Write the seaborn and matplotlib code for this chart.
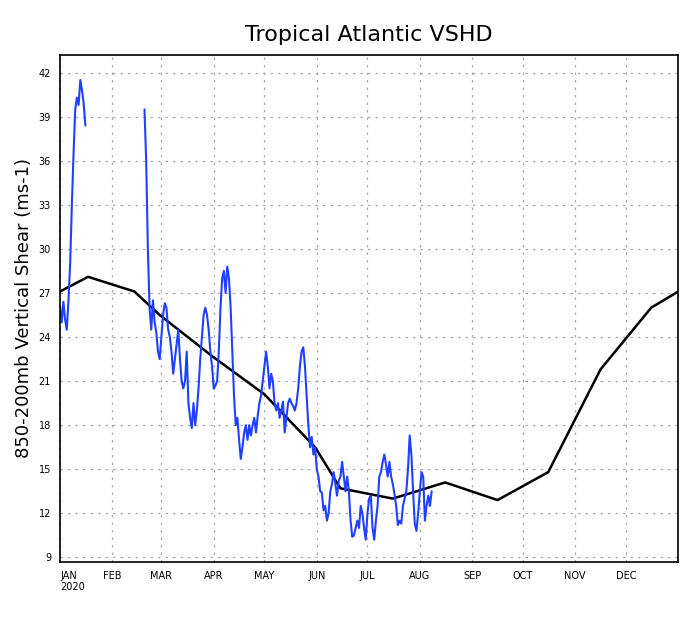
import numpy as np
import pandas as pd
import matplotlib
matplotlib.use("Agg")
import matplotlib.pyplot as plt
import seaborn as sns

# day of year 2020 (0 = Jan 1)
jan_days = list(range(0, 16))
jan_vals = [26.1, 25.0, 26.4, 25.2, 24.5, 26.5, 29.0, 33.0, 36.5, 39.5, 40.3, 39.8, 41.5, 40.8, 39.9, 38.4]

obs_days = list(range(50, 221))
obs_vals = [
    39.5, 36, 30, 26, 24.5, 26.5, 25, 24.3, 23, 22.5,
    24, 25.5, 26.3, 26, 24.5, 24, 23, 21.5, 22.5, 23.5,
    24.5, 22.5, 21, 20.5, 21, 23, 19.5, 18.5, 17.8, 19.5,
    18, 19, 20.5, 22.5, 24, 25.5, 26, 25.5, 24.5, 23,
    22, 20.5, 20.7, 21, 23, 26, 28, 28.5, 27, 28.8,
    28, 26, 23, 20, 18, 18.5, 17, 15.7, 16.5, 17.5,
    18, 17, 18, 17.3, 18, 18.5, 17.5, 18.6, 19.5, 20,
    21, 22, 23, 22, 20.5, 21.5, 21, 19.5, 19, 19.5,
    18.5, 19, 19.6, 17.5, 18.5, 19.5, 19.8, 19.5, 19.3, 19,
    19.5, 20.5, 22, 23, 23.3, 22, 20, 18, 16.5, 17.2,
    16, 16.5, 15, 14.5, 13.5, 13.4, 12.2, 12.5, 11.5, 12,
    13.5, 14, 14.8, 14, 13.2, 14.2, 14.5, 15.5, 14.5, 13.5,
    14.5, 13.5, 11.5, 10.4, 10.5, 11, 11.5, 11, 12.5, 12,
    11, 10.2, 12, 13, 13.2, 11, 10.2, 11.5, 12.5, 14.5,
    14.8, 15.5, 16, 15.3, 14.5, 15.5, 14.5, 14, 13.3, 12.5,
    11.2, 11.5, 11.3, 12.5, 13, 13.5, 15, 17.3, 16, 13.5,
    11.3, 10.8, 12, 13.5, 14.8, 14.5, 11.5, 12.5, 13.2, 12.5,
    13.5,
]

clim_days = [0, 16.6, 44, 59, 90, 121, 151, 166, 197, 228, 259, 289, 320, 350, 366]
clim_vals = [27.1, 28.1, 27.1, 25.5, 22.7, 20.1, 16.5, 13.7, 13.0, 14.1, 12.9, 14.8, 21.8, 26.0, 27.1]

month_starts = [0, 31, 60, 91, 121, 152, 182, 213, 244, 274, 305, 335]
month_labels = ["JAN\n2020", "FEB", "MAR", "APR", "MAY", "JUN", "JUL", "AUG", "SEP", "OCT", "NOV", "DEC"]

sns.set_style("white")
fig = plt.figure(figsize=(6.9, 6.18), dpi=100)
ax = fig.add_axes([0.087, 0.091, 0.896, 0.82])

clim = pd.DataFrame({"day": clim_days, "val": clim_vals})
sns.lineplot(data=clim, x="day", y="val", color="black", lw=1.8, ax=ax)
for d, v in [(jan_days, jan_vals), (obs_days, obs_vals)]:
    sns.lineplot(x=d, y=v, color="#2040ff", lw=1.5, ax=ax)

ax.set_xlim(0, 366)
ax.set_ylim(8.7, 43.2)
ax.set_yticks(range(9, 43, 3))
ax.set_xticks(month_starts)
ax.set_xticklabels(month_labels, fontsize=7, color="black")
ax.tick_params(axis="y", labelsize=7, labelcolor="black", length=3, direction="out")
ax.tick_params(axis="x", length=3, direction="out")
ax.get_xticklabels()[0].set_ha("left")
ax.get_xticklabels()[0].set_x(-8)
ax.grid(True, color="#aaaaaa", linestyle=(0, (2, 4)), lw=0.9)
for s in ax.spines.values():
    s.set_color("black")
    s.set_linewidth(1.2)
ax.set_xlabel("")
ax.set_ylabel("850-200mb Vertical Shear (ms-1)", fontsize=13, color="black")
ax.set_title("Tropical Atlantic VSHD", fontsize=16, pad=10, color="black")

fig.savefig("out.png", dpi=100)
